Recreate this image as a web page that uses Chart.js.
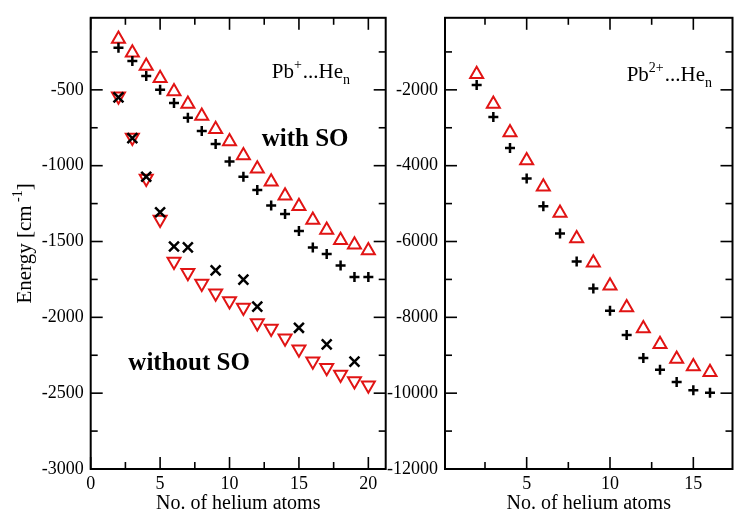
<!DOCTYPE html>
<html><head><meta charset="utf-8">
<script src="https://cdn.jsdelivr.net/npm/chart.js@4/dist/chart.umd.min.js"></script>
<style>
html,body{margin:0;padding:0;background:#fff;}
#wrap{position:relative;width:742px;height:516px;overflow:hidden;background:#fff;}
canvas{position:absolute;top:0;}
#c1{left:0;} #c2{left:380px;}
</style></head><body>
<div id="wrap"><canvas id="c1" width="400" height="516"></canvas><canvas id="c2" width="362" height="516"></canvas></div>
<script>
// ---- Left panel: Pb+...He_n ----
const nLeft = [2,3,4,5,6,7,8,9,10,11,12,13,14,15,16,17,18,19,20];
const withSOTri  = [-164,-255,-342,-424,-511,-593,-673,-760,-840,-933,-1020,-1106,-1199,-1268,-1359,-1424,-1492,-1521,-1560];
const withSOPlus = [-223,-310,-409,-500,-586,-684,-771,-857,-972,-1073,-1160,-1262,-1318,-1431,-1539,-1582,-1658,-1734,-1734];
const noSOTri    = [-543,-814,-1084,-1355,-1632,-1706,-1777,-1842,-1892,-1935,-2037,-2074,-2138,-2210,-2290,-2333,-2377,-2420,-2448];
const nNoSOx     = [2,3,4,5,6,7,9,11,12,15,17,19];
const noSOx      = [-550,-818,-1073,-1307,-1533,-1539,-1690,-1751,-1929,-2069,-2178,-2292];
const leftXTicks = [0,5,10,15,20];
const leftXMinor = [2.5,7.5,12.5,17.5];
const leftYTicks = [-3000,-2500,-2000,-1500,-1000,-500];
const leftYMinor = [-2750,-2250,-1750,-1250,-750,-250];

// ---- Right panel: Pb2+...He_n ----
const nRight = [2,3,4,5,6,7,8,9,10,11,12,13,14,15,16];
const pb2Tri  = [-1592,-2372,-3125,-3862,-4553,-5246,-5921,-6563,-7168,-7740,-8293,-8709,-9098,-9298,-9446];
const pb2Plus = [-1870,-2719,-3532,-4337,-5073,-5792,-6527,-7238,-7826,-8467,-9072,-9383,-9705,-9921,-9991];
const rightXTicks = [5,10,15];
const rightXMinor = [2.5,7.5,12.5];
const rightYTicks = [-12000,-10000,-8000,-6000,-4000,-2000];
const rightYMinor = [-11000,-9000,-7000,-5000,-3000,-1000];

const RED = 'rgb(225,20,20)';
const SERIF = '"Liberation Serif", "DejaVu Serif", serif';
const pts = (xs, ys) => xs.map((x,i)=>({x:x, y:ys[i]}));

function richText(ctx, x, y, segs, size, bold, align) {
  const fontOf = s => `${bold?'bold ':''}${(s.sup||s.sub)?Math.round(size*0.65):size}px ${SERIF}`;
  let total = 0;
  for (const s of segs) { ctx.font = fontOf(s); total += ctx.measureText(s.t).width; }
  let cx = align === 'center' ? x - total/2 : x;
  ctx.textAlign = 'left'; ctx.textBaseline = 'alphabetic';
  for (const s of segs) {
    ctx.font = fontOf(s);
    const dy = s.sup ? -size*0.42 : (s.sub ? size*0.3 : 0);
    ctx.fillText(s.t, cx, y + dy);
    cx += ctx.measureText(s.t).width + (s.gap || 0);
  }
}

const framePlugin = {
  id: 'frame',
  afterDatasetsDraw(chart, args, o) {
    const ctx = chart.ctx;
    const {left,right,top,bottom} = chart.chartArea;
    const xs = chart.scales.x, ys = chart.scales.y;
    ctx.save();
    ctx.strokeStyle = '#000';
    const ln = (a,b,c,d) => { ctx.beginPath(); ctx.moveTo(a,b); ctx.lineTo(c,d); ctx.stroke(); };
    ctx.lineWidth = 1.6;
    o.xMajor.forEach(v => { const p = xs.getPixelForValue(v); ln(p,bottom,p,bottom-12); ln(p,top,p,top+12); });
    o.xMinor.forEach(v => { const p = xs.getPixelForValue(v); ln(p,bottom,p,bottom-7); ln(p,top,p,top+7); });
    o.yMajor.forEach(v => { const p = ys.getPixelForValue(v); ln(left,p,left+12,p); ln(right,p,right-12,p); });
    o.yMinor.forEach(v => { const p = ys.getPixelForValue(v); ln(left,p,left+7,p); ln(right,p,right-7,p); });
    ctx.lineWidth = 2;
    ctx.strokeRect(left, top, right-left, bottom-top);
    ctx.fillStyle = '#000';
    (o.texts||[]).forEach(t => {
      richText(ctx, xs.getPixelForValue(t.x), ys.getPixelForValue(t.y), t.segs, t.size, t.bold, 'left');
    });
    if (o.yTitle) {
      ctx.translate(24, (top+bottom)/2);
      ctx.rotate(-Math.PI/2);
      richText(ctx, 0, 7, o.yTitle, 21, false, 'center');
    }
    ctx.restore();
  }
};

function makeScales(xMin, xMax, yMin, yMax, xT, yT, yWidth) {
  return {
    x: {
      type: 'linear', min: xMin, max: xMax,
      grid: {display:false, drawTicks:false}, border: {display:false},
      afterBuildTicks: s => { s.ticks = xT.map(v=>({value:v})); },
      afterFit: s => { s.height = 47; },
      ticks: { color:'#000', font:{family:SERIF, size:18}, padding:4, maxRotation:0, autoSkip:false, callback: v => String(v) },
      title: { display:true, text:'No. of helium atoms', color:'#000', font:{family:SERIF, size:20}, padding:{top:0,bottom:0} }
    },
    y: {
      type: 'linear', min: yMin, max: yMax,
      grid: {display:false, drawTicks:false}, border: {display:false},
      afterBuildTicks: s => { s.ticks = yT.map(v=>({value:v})); },
      afterFit: s => { s.width = yWidth; },
      ticks: { color:'#000', font:{family:SERIF, size:18}, padding:7, autoSkip:false, callback: v => String(v) }
    }
  };
}

const commonOpts = {
  responsive:false, animation:false, events:[],
  plugins:{ legend:{display:false}, tooltip:{enabled:false} }
};

new Chart(document.getElementById('c1'), {
  type: 'scatter',
  data: { datasets: [
    { data: pts(nLeft, withSOPlus), pointStyle:'cross', pointRadius:5, borderColor:'#000', borderWidth:2.5, backgroundColor:'transparent' },
    { data: pts(nNoSOx, noSOx), pointStyle:'crossRot', pointRadius:7, borderColor:'#000', borderWidth:2.5, backgroundColor:'transparent' },
    { data: pts(nLeft, withSOTri), pointStyle:'triangle', pointRadius:7.5, borderColor:RED, borderWidth:2, backgroundColor:'transparent' },
    { data: pts(nLeft, noSOTri), pointStyle:'triangle', rotation:180, pointRadius:7.5, borderColor:RED, borderWidth:2, backgroundColor:'transparent' }
  ]},
  options: Object.assign({}, commonOpts, {
    layout: { padding: { left:0, right:14.3, top:12.3, bottom:0 } },
    scales: makeScales(0, 21.25, -3000, -25, leftXTicks, leftYTicks, 90.7),
    plugins: Object.assign({}, commonOpts.plugins, {
      frame: {
        xMajor:leftXTicks, xMinor:leftXMinor, yMajor:leftYTicks, yMinor:leftYMinor,
        yTitle: [{t:'Energy [cm'},{t:' -1',sup:true},{t:']'}],
        texts: [
          {x:13.04, y:-422, size:21, segs:[{t:'Pb'},{t:'+',sup:true,gap:1},{t:'...He'},{t:'n',sub:true}]},
          {x:12.32, y:-870, size:25, bold:true, segs:[{t:'with SO'}]},
          {x:2.71, y:-2345, size:25, bold:true, segs:[{t:'without SO'}]}
        ]
      }
    })
  }),
  plugins: [framePlugin]
});

new Chart(document.getElementById('c2'), {
  type: 'scatter',
  data: { datasets: [
    { data: pts(nRight, pb2Plus), pointStyle:'cross', pointRadius:5, borderColor:'#000', borderWidth:2.5, backgroundColor:'transparent' },
    { data: pts(nRight, pb2Tri), pointStyle:'triangle', pointRadius:7.5, borderColor:RED, borderWidth:2, backgroundColor:'transparent' }
  ]},
  options: Object.assign({}, commonOpts, {
    layout: { padding: { left:0, right:2, top:12.3, bottom:0 } },
    scales: makeScales(0.1, 17.35, -12000, -100, rightXTicks, rightYTicks, 65),
    plugins: Object.assign({}, commonOpts.plugins, {
      frame: {
        xMajor:rightXTicks, xMinor:rightXMinor, yMajor:rightYTicks, yMinor:rightYMinor,
        texts: [
          {x:11.0, y:-1757, size:21, segs:[{t:'Pb'},{t:'2+',sup:true,gap:1},{t:'...He'},{t:'n',sub:true}]}
        ]
      }
    })
  }),
  plugins: [framePlugin]
});
</script>
</body></html>
